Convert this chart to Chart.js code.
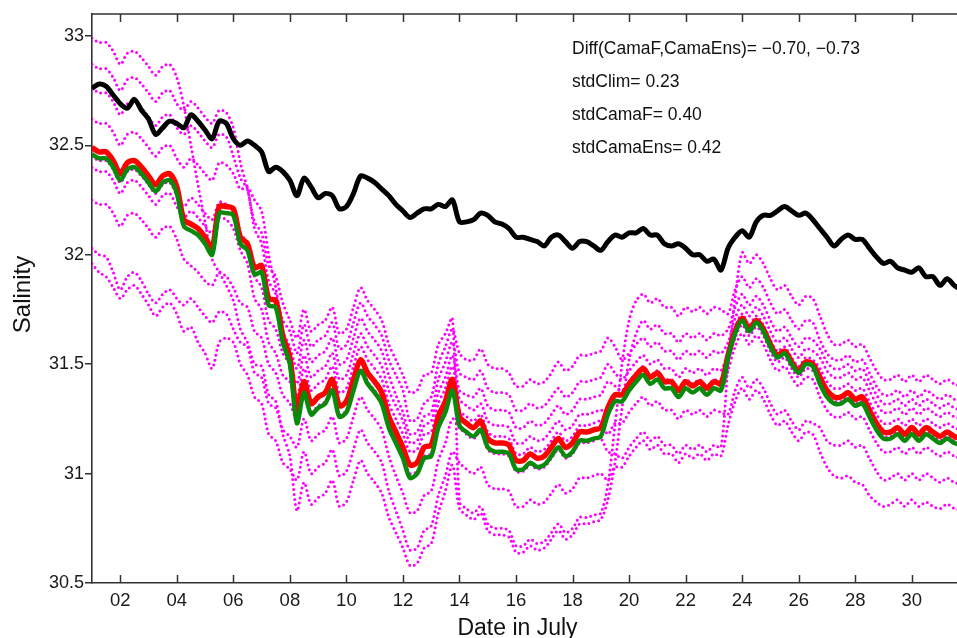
<!DOCTYPE html>
<html>
<head>
<meta charset="utf-8">
<script src="https://cdn.jsdelivr.net/npm/chart.js@4.4.0/dist/chart.umd.min.js"></script>
<style>
  html, body { margin: 0; padding: 0; background: #fff; }
  #wrap { width: 957px; height: 638px; }
</style>
</head>
<body>
<div id="wrap"><canvas id="salinity-chart" width="957" height="638"></canvas></div>
<script>
// samples every 6 hours, starting 1 July
const firstDay = 1, stepDay = 0.25;
const tickDays = [2, 4, 6, 8, 10, 12, 14, 16, 18, 20, 22, 24, 26, 28, 30];
const tickLabels = ['02', '04', '06', '08', '10', '12', '14', '16', '18', '20', '22', '24', '26', '28', '30'];
const salTicks = [30.5, 31, 31.5, 32, 32.5, 33];

const notes = ['Diff(CamaF,CamaEns)= \u22120.70, \u22120.73', 'stdClim= 0.23', 'stdCamaF= 0.40', 'stdCamaEns= 0.42'];

// black
const clim = [32.76, 32.78, 32.77, 32.73, 32.69, 32.67, 32.71, 32.66, 32.62, 32.55, 32.58, 32.61, 32.60,
  32.58, 32.64, 32.61, 32.57, 32.53, 32.61, 32.60, 32.53, 32.50, 32.52, 32.50, 32.47, 32.38, 32.40, 32.38, 32.34,
  32.27, 32.35, 32.31, 32.26, 32.28, 32.27, 32.21, 32.22, 32.28, 32.36, 32.35, 32.33, 32.30, 32.27, 32.23, 32.20, 32.17, 32.19, 32.21, 32.21, 32.23, 32.22, 32.25,
  32.15, 32.15, 32.16, 32.19, 32.18, 32.15, 32.14, 32.12, 32.08, 32.08, 32.07, 32.06, 32.04, 32.08, 32.09, 32.06, 32.03, 32.06, 32.06, 32.04, 32.02,
  32.06, 32.09, 32.08, 32.10, 32.10, 32.12, 32.09, 32.09, 32.05, 32.04, 32.05, 32.03, 32.00, 32.00, 31.97, 31.98, 31.93,
  32.03, 32.08, 32.11, 32.08, 32.15, 32.18, 32.18, 32.20, 32.22, 32.20, 32.18, 32.19, 32.16,
  32.12, 32.08, 32.04, 32.07, 32.09, 32.07, 32.07, 32.03, 31.99, 31.96, 31.97, 31.94, 31.93, 31.92, 31.94, 31.90, 31.90, 31.86, 31.89, 31.86, 31.84];

// red
const camaF = [32.49, 32.47, 32.47, 32.43, 32.37, 32.42, 32.43, 32.40, 32.36, 32.32, 32.36, 32.37, 32.31,
  32.16, 32.14, 32.12, 32.08, 32.03, 32.22, 32.22, 32.21, 32.08, 32.05, 31.94, 31.95, 31.80, 31.79, 31.63, 31.53,
  31.29, 31.42, 31.32, 31.35, 31.37, 31.43, 31.31, 31.33, 31.43, 31.52, 31.46, 31.42, 31.37, 31.26, 31.19, 31.12, 31.04, 31.05, 31.12, 31.13, 31.26, 31.33, 31.43,
  31.26, 31.23, 31.21, 31.24, 31.16, 31.14, 31.14, 31.13, 31.06, 31.06, 31.09, 31.07, 31.08, 31.12, 31.16, 31.12, 31.14, 31.19, 31.19, 31.20, 31.21,
  31.30, 31.36, 31.36, 31.41, 31.45, 31.48, 31.44, 31.46, 31.42, 31.42, 31.38, 31.42, 31.40, 31.42, 31.39, 31.42, 31.41,
  31.54, 31.65, 31.71, 31.66, 31.70, 31.66, 31.59, 31.54, 31.56, 31.51, 31.47, 31.51, 31.50,
  31.44, 31.38, 31.35, 31.35, 31.37, 31.34, 31.35, 31.29, 31.23, 31.19, 31.19, 31.21, 31.18, 31.21, 31.18, 31.21, 31.19, 31.17, 31.19, 31.17, 31.16];

// green
const camaEns = [32.46, 32.44, 32.44, 32.40, 32.34, 32.39, 32.40, 32.37, 32.33, 32.29, 32.33, 32.34, 32.28,
  32.13, 32.11, 32.09, 32.05, 32.00, 32.19, 32.19, 32.18, 32.05, 32.02, 31.91, 31.92, 31.77, 31.76, 31.60, 31.50,
  31.23, 31.37, 31.27, 31.30, 31.32, 31.38, 31.26, 31.28, 31.38, 31.47, 31.41, 31.37, 31.32, 31.21, 31.14, 31.07, 30.98, 31.00, 31.07, 31.08, 31.21, 31.28, 31.38,
  31.22, 31.19, 31.17, 31.20, 31.12, 31.10, 31.10, 31.09, 31.02, 31.02, 31.05, 31.03, 31.04, 31.08, 31.12, 31.08, 31.10, 31.15, 31.15, 31.16, 31.17,
  31.27, 31.33, 31.33, 31.38, 31.42, 31.45, 31.41, 31.43, 31.39, 31.39, 31.35, 31.39, 31.37, 31.39, 31.36, 31.39, 31.38,
  31.53, 31.64, 31.70, 31.65, 31.69, 31.65, 31.58, 31.53, 31.55, 31.50, 31.46, 31.50, 31.49,
  31.41, 31.35, 31.32, 31.32, 31.34, 31.31, 31.32, 31.26, 31.20, 31.16, 31.16, 31.18, 31.15, 31.18, 31.15, 31.18, 31.16, 31.14, 31.16, 31.14, 31.13];

// magenta ensemble members
const memA = [32.99, 32.97, 32.97, 32.93, 32.87, 32.92, 32.93, 32.90, 32.86, 32.82, 32.86, 32.87, 32.81,
  32.68, 32.50, 32.32, 32.15, 31.98, 31.92, 31.86, 31.79, 31.66, 31.60, 31.50, 31.49, 31.36, 31.33, 31.18, 31.08,
  30.83, 30.96, 30.86, 30.89, 30.91, 30.97, 30.85, 30.87, 30.97, 31.06, 31.00, 30.96, 30.91, 30.80, 30.73, 30.66, 30.58, 30.59, 30.66, 30.68, 30.82, 30.92, 31.04,
  30.84, 30.81, 30.79, 30.82, 30.74, 30.72, 30.72, 30.71, 30.64, 30.64, 30.67, 30.65, 30.66, 30.70, 30.74, 30.70, 30.72, 30.77, 30.77, 30.78, 30.79,
  30.88, 31.05, 31.30, 31.52, 31.64, 31.70, 31.66, 31.68, 31.64, 31.64, 31.60, 31.64, 31.62, 31.64, 31.61, 31.64, 31.63,
  31.66, 31.76, 31.82, 31.77, 31.81, 31.77, 31.70, 31.65, 31.67, 31.62, 31.58, 31.62, 31.61,
  31.57, 31.51, 31.48, 31.48, 31.50, 31.47, 31.48, 31.42, 31.36, 31.32, 31.32, 31.34, 31.31, 31.34, 31.31, 31.34, 31.32, 31.30, 31.32, 31.30, 31.29];
const memB = [32.87, 32.85, 32.85, 32.81, 32.75, 32.80, 32.81, 32.78, 32.74, 32.70, 32.74, 32.75, 32.69,
  32.66, 32.70, 32.67, 32.63, 32.60, 32.66, 32.65, 32.58, 32.42, 32.30, 32.15, 32.10, 31.95, 31.90, 31.78, 31.70,
  31.62, 31.75, 31.65, 31.68, 31.70, 31.76, 31.64, 31.66, 31.76, 31.85, 31.79, 31.75, 31.70, 31.59, 31.52, 31.45, 31.37, 31.38, 31.45, 31.46, 31.59, 31.64, 31.71,
  30.87, 30.84, 30.82, 30.85, 30.77, 30.75, 30.75, 30.74, 30.67, 30.67, 30.70, 30.68, 30.69, 30.73, 30.77, 30.73, 30.75, 30.80, 30.80, 30.81, 30.82,
  30.95, 31.22, 31.50, 31.70, 31.79, 31.82, 31.78, 31.80, 31.76, 31.76, 31.72, 31.76, 31.74, 31.76, 31.73, 31.76, 31.75,
  31.73, 31.84, 31.90, 31.85, 31.89, 31.85, 31.78, 31.73, 31.75, 31.70, 31.66, 31.70, 31.69,
  31.61, 31.55, 31.52, 31.52, 31.54, 31.51, 31.52, 31.46, 31.40, 31.36, 31.36, 31.38, 31.35, 31.38, 31.35, 31.38, 31.36, 31.34, 31.36, 31.34, 31.33];
const memC = [32.76, 32.74, 32.74, 32.70, 32.64, 32.69, 32.70, 32.67, 32.63, 32.59, 32.63, 32.64, 32.58,
  32.55, 32.59, 32.56, 32.52, 32.49, 32.55, 32.54, 32.45, 32.35, 32.30, 32.12, 32.05, 31.88, 31.82, 31.70, 31.65,
  31.55, 31.68, 31.58, 31.61, 31.63, 31.69, 31.57, 31.59, 31.69, 31.78, 31.72, 31.68, 31.63, 31.52, 31.45, 31.38, 31.24, 31.25, 31.32, 31.35, 31.50, 31.58, 31.66,
  31.55, 31.52, 31.52, 31.57, 31.50, 31.48, 31.48, 31.46, 31.40, 31.40, 31.43, 31.41, 31.42, 31.46, 31.51, 31.47, 31.49, 31.54, 31.54, 31.55, 31.56,
  31.62, 31.58, 31.52, 31.55, 31.59, 31.62, 31.58, 31.60, 31.56, 31.56, 31.52, 31.56, 31.54, 31.56, 31.53, 31.56, 31.55,
  31.60, 31.71, 31.77, 31.72, 31.76, 31.72, 31.65, 31.60, 31.62, 31.57, 31.53, 31.57, 31.56,
  31.53, 31.47, 31.44, 31.44, 31.46, 31.43, 31.44, 31.38, 31.32, 31.28, 31.28, 31.30, 31.27, 31.30, 31.27, 31.30, 31.28, 31.26, 31.28, 31.26, 31.25];
const memD = [32.62, 32.60, 32.60, 32.56, 32.50, 32.55, 32.56, 32.53, 32.49, 32.45, 32.49, 32.50, 32.44,
  32.40, 32.44, 32.41, 32.37, 32.34, 32.42, 32.41, 32.37, 32.30, 32.31, 32.25, 32.20, 32.00, 31.85, 31.65, 31.58,
  31.48, 31.61, 31.51, 31.54, 31.56, 31.62, 31.50, 31.52, 31.62, 31.71, 31.65, 31.61, 31.56, 31.45, 31.36, 31.28, 31.18, 31.19, 31.26, 31.28, 31.43, 31.51, 31.60,
  31.46, 31.44, 31.43, 31.47, 31.39, 31.37, 31.37, 31.36, 31.29, 31.29, 31.32, 31.30, 31.31, 31.35, 31.39, 31.35, 31.37, 31.42, 31.42, 31.43, 31.44,
  31.50, 31.46, 31.43, 31.47, 31.51, 31.54, 31.50, 31.52, 31.48, 31.48, 31.44, 31.48, 31.46, 31.48, 31.45, 31.48, 31.47,
  31.56, 31.67, 31.73, 31.68, 31.72, 31.68, 31.61, 31.56, 31.58, 31.53, 31.49, 31.53, 31.52,
  31.48, 31.42, 31.39, 31.39, 31.41, 31.38, 31.39, 31.33, 31.27, 31.23, 31.23, 31.25, 31.22, 31.25, 31.22, 31.25, 31.23, 31.21, 31.23, 31.21, 31.20];
const memE = [32.45, 32.43, 32.43, 32.39, 32.33, 32.38, 32.39, 32.36, 32.32, 32.28, 32.32, 32.33, 32.27,
  32.22, 32.26, 32.23, 32.19, 32.16, 32.24, 32.23, 32.20, 32.10, 32.05, 31.90, 31.85, 31.70, 31.66, 31.55, 31.50,
  31.41, 31.54, 31.44, 31.47, 31.49, 31.55, 31.43, 31.45, 31.55, 31.64, 31.58, 31.54, 31.49, 31.38, 31.31, 31.24, 31.14, 31.15, 31.22, 31.24, 31.37, 31.44, 31.54,
  31.38, 31.36, 31.35, 31.39, 31.31, 31.29, 31.29, 31.28, 31.21, 31.21, 31.24, 31.22, 31.23, 31.27, 31.31, 31.27, 31.29, 31.34, 31.34, 31.35, 31.36,
  31.42, 31.40, 31.38, 31.42, 31.46, 31.49, 31.45, 31.47, 31.43, 31.43, 31.39, 31.43, 31.41, 31.43, 31.40, 31.43, 31.42,
  31.51, 31.62, 31.68, 31.63, 31.67, 31.63, 31.56, 31.51, 31.53, 31.48, 31.44, 31.48, 31.47,
  31.42, 31.36, 31.33, 31.33, 31.35, 31.32, 31.33, 31.27, 31.21, 31.17, 31.17, 31.19, 31.16, 31.19, 31.16, 31.19, 31.17, 31.15, 31.17, 31.15, 31.14];
const memF = [32.40, 32.38, 32.38, 32.34, 32.28, 32.33, 32.34, 32.31, 32.27, 32.23, 32.27, 32.28, 32.22,
  32.17, 32.20, 32.17, 32.13, 32.10, 32.17, 32.16, 32.12, 32.02, 31.96, 31.80, 31.75, 31.60, 31.55, 31.45, 31.42,
  31.35, 31.48, 31.38, 31.41, 31.43, 31.49, 31.37, 31.39, 31.49, 31.58, 31.52, 31.48, 31.43, 31.32, 31.25, 31.18, 31.10, 31.11, 31.18, 31.19, 31.32, 31.39, 31.49,
  31.34, 31.31, 31.29, 31.32, 31.24, 31.22, 31.22, 31.21, 31.14, 31.14, 31.17, 31.15, 31.16, 31.20, 31.24, 31.20, 31.22, 31.27, 31.27, 31.28, 31.29,
  31.28, 31.33, 31.33, 31.38, 31.42, 31.45, 31.41, 31.43, 31.39, 31.39, 31.35, 31.39, 31.37, 31.39, 31.36, 31.39, 31.38,
  31.47, 31.58, 31.64, 31.59, 31.63, 31.59, 31.52, 31.47, 31.49, 31.44, 31.40, 31.44, 31.43,
  31.35, 31.29, 31.26, 31.26, 31.28, 31.25, 31.26, 31.20, 31.14, 31.10, 31.10, 31.12, 31.09, 31.12, 31.09, 31.12, 31.10, 31.08, 31.10, 31.08, 31.07];
const memG = [32.25, 32.23, 32.23, 32.19, 32.13, 32.18, 32.19, 32.16, 32.12, 32.08, 32.12, 32.13, 32.07,
  31.98, 31.95, 31.92, 31.88, 31.86, 31.92, 31.90, 31.85, 31.78, 31.76, 31.65, 31.62, 31.50, 31.46, 31.36, 31.32,
  31.25, 31.38, 31.28, 31.31, 31.33, 31.39, 31.27, 31.29, 31.39, 31.48, 31.42, 31.38, 31.33, 31.22, 31.15, 31.08, 31.00, 31.01, 31.08, 31.09, 31.22, 31.29, 31.39,
  31.29, 31.26, 31.24, 31.27, 31.19, 31.17, 31.17, 31.16, 31.09, 31.09, 31.12, 31.10, 31.11, 31.15, 31.19, 31.15, 31.17, 31.22, 31.22, 31.23, 31.24,
  31.18, 31.23, 31.23, 31.28, 31.32, 31.35, 31.31, 31.33, 31.29, 31.29, 31.25, 31.29, 31.27, 31.29, 31.26, 31.29, 31.28,
  31.27, 31.38, 31.44, 31.39, 31.43, 31.39, 31.32, 31.27, 31.29, 31.24, 31.20, 31.24, 31.23,
  31.21, 31.15, 31.13, 31.13, 31.15, 31.12, 31.13, 31.07, 31.01, 30.97, 30.98, 31.00, 30.97, 31.00, 30.97, 31.00, 30.98, 30.96, 30.98, 30.96, 30.95];
const memH = [32.03, 32.00, 31.99, 31.92, 31.84, 31.90, 31.92, 31.88, 31.82, 31.78, 31.82, 31.84, 31.80,
  31.77, 31.80, 31.76, 31.72, 31.69, 31.74, 31.73, 31.66, 31.60, 31.58, 31.46, 31.44, 31.32, 31.30, 31.20, 31.17,
  31.12, 31.25, 31.15, 31.18, 31.20, 31.26, 31.14, 31.16, 31.26, 31.35, 31.29, 31.25, 31.20, 31.08, 30.99, 30.91, 30.82, 30.83, 30.90, 30.92, 31.06, 31.14, 31.25,
  31.21, 31.18, 31.16, 31.19, 31.11, 31.09, 31.09, 31.08, 31.01, 31.01, 31.04, 31.02, 31.03, 31.07, 31.11, 31.07, 31.09, 31.14, 31.14, 31.15, 31.16,
  31.10, 31.09, 31.07, 31.12, 31.16, 31.19, 31.15, 31.17, 31.13, 31.13, 31.09, 31.13, 31.11, 31.13, 31.10, 31.13, 31.12,
  31.50, 31.80, 32.01, 31.96, 32.00, 31.96, 31.89, 31.84, 31.86, 31.81, 31.77, 31.81, 31.80,
  31.72, 31.64, 31.59, 31.59, 31.61, 31.58, 31.59, 31.53, 31.47, 31.43, 31.43, 31.45, 31.42, 31.45, 31.42, 31.45, 31.43, 31.41, 31.43, 31.41, 31.40];
const memI = [31.96, 31.92, 31.90, 31.85, 31.80, 31.84, 31.86, 31.82, 31.77, 31.72, 31.76, 31.78, 31.73,
  31.65, 31.67, 31.60, 31.55, 31.48, 31.60, 31.62, 31.60, 31.50, 31.45, 31.35, 31.32, 31.18, 31.15, 31.05, 31.02,
  30.97, 31.10, 31.00, 31.03, 31.05, 31.11, 30.99, 31.01, 31.11, 31.20, 31.14, 31.10, 31.05, 30.92, 30.83, 30.74, 30.65, 30.66, 30.74, 30.76, 30.90, 30.99, 31.10,
  31.05, 31.02, 31.00, 31.03, 30.95, 30.93, 30.93, 30.92, 30.85, 30.85, 30.88, 30.86, 30.87, 30.91, 30.95, 30.91, 30.93, 30.98, 30.98, 30.99, 31.00,
  30.97, 31.03, 31.03, 31.08, 31.12, 31.15, 31.11, 31.13, 31.09, 31.09, 31.05, 31.09, 31.07, 31.09, 31.06, 31.09, 31.08,
  31.22, 31.33, 31.39, 31.34, 31.38, 31.34, 31.27, 31.22, 31.24, 31.19, 31.15, 31.19, 31.18,
  31.10, 31.03, 30.99, 30.98, 30.99, 30.96, 30.95, 30.90, 30.87, 30.85, 30.86, 30.88, 30.85, 30.88, 30.85, 30.87, 30.85, 30.84, 30.86, 30.84, 30.83];

const members = [memA, memB, memC, memD, memE, memF, memG, memH, memI];

const FONT = "'Liberation Sans', Arial, sans-serif";

function toPoints(vals) {
  return vals.map((v, i) => ({ x: firstDay + i * stepDay, y: v }));
}

const datasets = [
  { label: 'CamaEns', data: toPoints(camaEns), borderColor: '#0a8a0a', borderWidth: 4.5, order: 1 },
  { label: 'CamaF', data: toPoints(camaF), borderColor: '#ff0000', borderWidth: 5.5, order: 2 },
  { label: 'Clim', data: toPoints(clim), borderColor: '#000000', borderWidth: 5, order: 3 }
];
members.forEach((m, k) => {
  datasets.push({
    label: 'member ' + (k + 1),
    data: toPoints(m),
    borderColor: '#ff00ff',
    borderWidth: 3,
    borderDash: [0, 5],
    borderCapStyle: 'round',
    order: 4
  });
});

const framePlugin = {
  id: 'frame',
  afterDraw(chart) {
    const { ctx, chartArea: a, scales: { x } } = chart;
    ctx.save();
    ctx.strokeStyle = '#333';
    ctx.lineWidth = 1.5;
    ctx.beginPath();
    ctx.moveTo(a.left, a.top);
    ctx.lineTo(a.right, a.top);
    tickDays.forEach(d => {
      const px = Math.round(x.getPixelForValue(d)) + 0.5;
      ctx.moveTo(px, a.bottom);
      ctx.lineTo(px, a.bottom - 8);
      ctx.moveTo(px, a.top);
      ctx.lineTo(px, a.top + 8);
    });
    ctx.stroke();

    ctx.fillStyle = '#111';
    ctx.font = '23px ' + FONT;
    ctx.textAlign = 'center';
    ctx.textBaseline = 'alphabetic';
    ctx.fillText('Date in July', (a.left + a.right) / 2 - 7, 635);

    ctx.save();
    ctx.font = '24px ' + FONT;
    ctx.translate(30, (a.top + a.bottom) / 2 - 4);
    ctx.rotate(-Math.PI / 2);
    ctx.fillText('Salinity', 0, 0);
    ctx.restore();

    ctx.font = '17.5px ' + FONT;
    ctx.textAlign = 'left';
    notes.forEach((t, i) => ctx.fillText(t, 572, 54 + i * 33));
    ctx.restore();
  }
};

new Chart(document.getElementById('salinity-chart'), {
  type: 'line',
  data: { datasets },
  options: {
    responsive: false,
    devicePixelRatio: 1,
    animation: false,
    layout: { padding: { top: 14, left: 0, right: 0, bottom: 0 } },
    elements: {
      point: { radius: 0 },
      line: { tension: 0.3, borderJoinStyle: 'round', fill: false }
    },
    plugins: { legend: { display: false }, tooltip: { enabled: false } },
    scales: {
      x: {
        type: 'linear',
        min: 1,
        max: 31.6,
        afterBuildTicks: s => { s.ticks = tickDays.map(v => ({ value: v })); },
        afterFit: s => { s.height = 55; },
        ticks: {
          autoSkip: false,
          maxRotation: 0,
          padding: 7,
          color: '#1a1a1a',
          font: { family: FONT, size: 18.5 },
          callback: v => tickLabels[tickDays.indexOf(v)]
        },
        grid: { display: false, drawTicks: false },
        border: { display: true, color: '#333', width: 1.6 }
      },
      y: {
        min: 30.5,
        max: 33.1,
        afterBuildTicks: s => { s.ticks = salTicks.map(v => ({ value: v })); },
        afterFit: s => { s.width = 92; },
        ticks: {
          padding: 1,
          color: '#1a1a1a',
          font: { family: FONT, size: 18 },
          callback: v => String(v)
        },
        grid: { display: true, drawOnChartArea: false, drawTicks: true, tickLength: 7, color: '#333', lineWidth: 1.5 },
        border: { display: true, color: '#333', width: 1.6 }
      }
    }
  },
  plugins: [framePlugin]
});
</script>
</body>
</html>
